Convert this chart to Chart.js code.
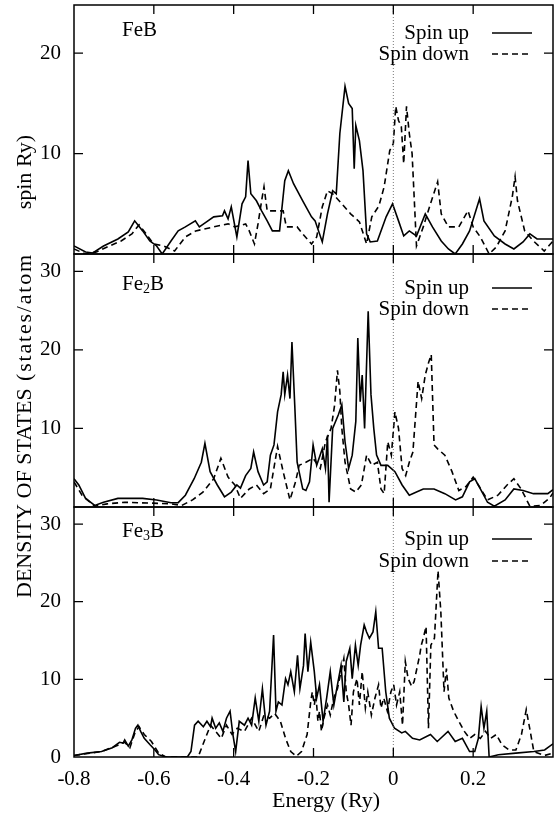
<!DOCTYPE html>
<html><head><meta charset="utf-8">
<script src="https://cdn.jsdelivr.net/npm/chart.js@4.4.0/dist/chart.umd.min.js"></script>
<style>html,body{margin:0;padding:0;background:#fff;}#wrap{position:relative;width:557px;height:818px;}</style>
</head><body><div id="wrap"><canvas id="c" width="557" height="818"></canvas></div>
<script>
// ---- data (energy in Ry, DOS in states/atom spin Ry) ----
const xLimits = [-0.8, 0.4];
const yLimits = {FeB: [0, 24.8], Fe2B: [0, 32.2], Fe3B: [0, 32.2]};
const seriesNames = ['Spin up', 'Spin down'];

const FeB_up = [[-0.800,0.8],[-0.771,0.2],[-0.753,0.1],[-0.726,0.8],[-0.690,1.5],[-0.664,2.2],[-0.648,3.3],[-0.628,2.3],[-0.610,1.3],[-0.593,0.8],[-0.579,0.0],[-0.557,1.3],[-0.539,2.3],[-0.521,2.7],[-0.496,3.3],[-0.486,2.7],[-0.468,3.2],[-0.450,3.7],[-0.428,3.8],[-0.423,4.3],[-0.414,3.5],[-0.406,4.7],[-0.392,1.7],[-0.379,5.0],[-0.370,5.7],[-0.364,9.3],[-0.357,6.0],[-0.343,5.3],[-0.330,4.3],[-0.316,3.3],[-0.303,2.3],[-0.285,2.3],[-0.272,7.3],[-0.263,8.3],[-0.250,7.0],[-0.227,5.3],[-0.205,3.7],[-0.196,3.3],[-0.178,1.2],[-0.165,4.0],[-0.152,6.3],[-0.143,6.0],[-0.134,12.0],[-0.121,16.7],[-0.112,15.0],[-0.103,14.5],[-0.098,8.5],[-0.094,12.8],[-0.085,11.3],[-0.076,8.3],[-0.067,2.0],[-0.058,1.2],[-0.040,1.3],[-0.018,3.7],[-0.002,5.0],[0.013,3.3],[0.026,1.8],[0.040,2.3],[0.058,1.8],[0.080,4.0],[0.098,2.7],[0.120,1.3],[0.138,0.5],[0.155,0.0],[0.173,1.0],[0.191,2.3],[0.216,5.5],[0.227,3.3],[0.253,1.8],[0.280,1.0],[0.302,0.5],[0.325,1.2],[0.342,2.0],[0.360,1.5],[0.400,1.5]];
const FeB_down = [[-0.800,0.5],[-0.771,0.0],[-0.744,0.2],[-0.717,0.7],[-0.682,1.3],[-0.655,2.0],[-0.637,2.9],[-0.619,2.0],[-0.601,1.0],[-0.575,0.8],[-0.548,0.3],[-0.521,1.7],[-0.495,2.3],[-0.450,2.7],[-0.414,3.0],[-0.397,2.7],[-0.370,3.0],[-0.361,2.3],[-0.348,1.0],[-0.339,3.0],[-0.330,5.3],[-0.324,6.7],[-0.316,4.3],[-0.299,4.3],[-0.276,4.3],[-0.268,2.7],[-0.241,2.7],[-0.227,2.0],[-0.205,1.0],[-0.192,1.7],[-0.178,4.7],[-0.165,6.3],[-0.152,6.0],[-0.129,5.0],[-0.107,4.0],[-0.085,3.2],[-0.067,1.0],[-0.054,3.7],[-0.036,4.8],[-0.023,6.7],[-0.009,10.3],[0.000,11.0],[0.006,14.7],[0.013,13.3],[0.020,12.7],[0.026,9.0],[0.033,14.7],[0.040,12.0],[0.047,10.0],[0.058,0.8],[0.075,2.7],[0.093,5.0],[0.111,7.2],[0.120,4.0],[0.138,2.7],[0.164,2.7],[0.187,4.3],[0.200,2.7],[0.218,1.7],[0.240,0.0],[0.258,0.7],[0.280,2.3],[0.298,5.7],[0.305,7.7],[0.311,5.3],[0.329,2.3],[0.351,1.3],[0.378,0.3],[0.400,1.3]];

const Fe2B_up = [[-0.800,3.6],[-0.788,2.8],[-0.771,1.1],[-0.748,0.2],[-0.726,0.6],[-0.690,1.1],[-0.628,1.1],[-0.593,0.9],[-0.557,0.55],[-0.539,0.55],[-0.521,1.5],[-0.499,3.6],[-0.481,5.7],[-0.472,8.1],[-0.459,4.5],[-0.441,2.8],[-0.423,1.3],[-0.406,1.9],[-0.392,2.8],[-0.383,2.4],[-0.370,4.0],[-0.357,4.9],[-0.350,7.0],[-0.339,4.5],[-0.325,2.8],[-0.316,3.2],[-0.308,6.6],[-0.299,7.9],[-0.290,12.1],[-0.281,14.3],[-0.276,17.2],[-0.272,14.3],[-0.265,16.8],[-0.259,13.8],[-0.254,21.0],[-0.247,13.0],[-0.241,5.7],[-0.227,2.3],[-0.219,2.1],[-0.210,3.2],[-0.201,7.9],[-0.192,5.3],[-0.178,7.4],[-0.170,4.9],[-0.165,9.1],[-0.161,0.6],[-0.152,10.0],[-0.138,11.7],[-0.129,13.0],[-0.121,8.3],[-0.112,4.9],[-0.103,6.6],[-0.094,10.9],[-0.089,21.5],[-0.083,13.4],[-0.078,16.8],[-0.072,10.0],[-0.063,24.9],[-0.056,14.3],[-0.049,10.0],[-0.042,6.6],[-0.031,5.3],[-0.014,5.3],[0.004,4.5],[0.022,2.8],[0.040,1.5],[0.058,1.9],[0.075,2.3],[0.102,2.3],[0.129,1.7],[0.156,0.9],[0.173,1.3],[0.191,3.2],[0.204,3.6],[0.218,2.3],[0.236,0.6],[0.253,0.1],[0.280,0.9],[0.302,2.3],[0.325,2.1],[0.351,1.7],[0.387,1.7],[0.400,2.2]];
const Fe2B_down = [[-0.800,3.2],[-0.780,1.5],[-0.748,0.1],[-0.717,0.4],[-0.673,0.6],[-0.610,0.5],[-0.557,0.4],[-0.530,0.2],[-0.503,0.9],[-0.477,1.9],[-0.450,3.6],[-0.432,6.2],[-0.414,3.8],[-0.397,2.8],[-0.383,1.1],[-0.361,2.3],[-0.343,2.8],[-0.325,1.7],[-0.308,2.3],[-0.290,7.7],[-0.276,4.5],[-0.259,0.9],[-0.245,3.2],[-0.236,5.3],[-0.219,5.7],[-0.201,6.2],[-0.183,4.9],[-0.170,8.3],[-0.156,10.0],[-0.147,13.0],[-0.140,17.4],[-0.134,14.7],[-0.129,10.0],[-0.121,5.7],[-0.107,2.3],[-0.094,1.9],[-0.080,2.8],[-0.067,6.6],[-0.054,5.3],[-0.040,5.7],[-0.031,2.3],[-0.023,1.7],[-0.014,8.3],[-0.005,6.6],[0.004,12.1],[0.013,10.0],[0.022,4.9],[0.031,4.0],[0.040,5.7],[0.049,7.0],[0.062,16.0],[0.071,13.8],[0.080,16.8],[0.089,18.5],[0.095,19.4],[0.102,7.9],[0.111,7.4],[0.129,6.6],[0.147,4.5],[0.164,2.1],[0.182,2.6],[0.200,3.8],[0.213,2.8],[0.236,0.9],[0.262,1.5],[0.285,2.8],[0.302,3.6],[0.320,2.3],[0.342,0.1],[0.369,0.2],[0.391,1.1],[0.400,1.8]];

const Fe3B_up = [[-0.800,0.2],[-0.767,0.5],[-0.731,0.7],[-0.704,1.2],[-0.686,1.9],[-0.677,1.8],[-0.673,2.2],[-0.664,1.4],[-0.655,2.2],[-0.646,3.7],[-0.640,4.1],[-0.633,3.3],[-0.624,2.4],[-0.610,1.6],[-0.597,0.9],[-0.588,0.3],[-0.570,0.0],[-0.516,0.0],[-0.507,0.7],[-0.498,4.1],[-0.489,4.6],[-0.476,3.9],[-0.467,4.6],[-0.458,3.9],[-0.454,5.0],[-0.445,3.7],[-0.436,4.4],[-0.427,3.3],[-0.418,5.0],[-0.409,5.9],[-0.402,2.9],[-0.395,0.7],[-0.386,4.6],[-0.373,4.1],[-0.364,5.0],[-0.355,4.1],[-0.346,7.6],[-0.337,4.6],[-0.328,8.8],[-0.319,4.1],[-0.310,5.9],[-0.300,15.7],[-0.294,5.9],[-0.288,7.1],[-0.279,6.7],[-0.270,10.1],[-0.264,9.3],[-0.257,11.0],[-0.248,8.4],[-0.240,13.1],[-0.234,8.8],[-0.225,11.8],[-0.221,15.9],[-0.214,11.0],[-0.207,14.8],[-0.198,11.0],[-0.192,7.6],[-0.185,9.3],[-0.176,4.6],[-0.167,7.6],[-0.158,11.0],[-0.149,6.7],[-0.140,9.3],[-0.131,11.8],[-0.124,7.1],[-0.118,12.3],[-0.109,14.0],[-0.103,10.1],[-0.095,14.4],[-0.088,11.8],[-0.082,14.4],[-0.073,17.0],[-0.067,16.1],[-0.060,15.3],[-0.051,16.1],[-0.044,18.7],[-0.037,14.0],[-0.028,14.0],[-0.019,8.4],[-0.010,5.0],[0.003,3.7],[0.021,3.1],[0.030,3.3],[0.048,2.4],[0.066,2.2],[0.093,2.9],[0.110,2.0],[0.137,3.3],[0.155,2.0],[0.173,2.4],[0.191,0.7],[0.204,0.7],[0.213,2.4],[0.220,6.5],[0.227,3.7],[0.234,5.9],[0.240,0.0],[0.263,0.3],[0.307,0.5],[0.352,0.7],[0.379,0.9],[0.400,1.7]];
const Fe3B_down = [[-0.800,0.2],[-0.731,0.7],[-0.686,1.6],[-0.673,1.9],[-0.660,1.2],[-0.646,3.3],[-0.637,3.9],[-0.624,2.9],[-0.606,2.0],[-0.588,0.5],[-0.570,0.0],[-0.489,0.0],[-0.471,2.4],[-0.458,4.1],[-0.445,3.3],[-0.431,2.4],[-0.418,4.1],[-0.404,2.9],[-0.391,3.7],[-0.373,3.3],[-0.355,5.0],[-0.337,3.3],[-0.324,5.4],[-0.310,5.0],[-0.297,5.6],[-0.283,4.6],[-0.270,2.4],[-0.257,0.7],[-0.243,0.1],[-0.230,0.7],[-0.216,2.9],[-0.207,7.1],[-0.203,8.4],[-0.198,6.7],[-0.194,8.0],[-0.189,4.6],[-0.185,5.9],[-0.180,3.3],[-0.174,5.0],[-0.165,6.7],[-0.158,5.4],[-0.149,7.6],[-0.140,8.8],[-0.131,11.0],[-0.124,12.7],[-0.118,8.4],[-0.112,6.7],[-0.106,4.1],[-0.100,8.4],[-0.091,10.1],[-0.085,6.7],[-0.078,11.0],[-0.070,6.3],[-0.064,8.4],[-0.055,5.4],[-0.046,7.6],[-0.037,9.3],[-0.031,6.3],[-0.024,7.6],[-0.015,5.9],[-0.006,8.4],[0.001,9.3],[0.008,6.7],[0.016,8.4],[0.023,4.1],[0.030,12.3],[0.037,10.1],[0.046,9.1],[0.052,9.7],[0.059,11.4],[0.066,13.1],[0.070,14.4],[0.075,15.3],[0.082,16.8],[0.088,3.7],[0.094,14.4],[0.103,15.3],[0.112,24.0],[0.119,18.7],[0.127,8.4],[0.133,11.4],[0.139,7.6],[0.151,5.9],[0.164,4.6],[0.178,3.3],[0.191,2.4],[0.204,2.9],[0.218,2.4],[0.231,3.3],[0.244,2.4],[0.258,2.9],[0.272,1.6],[0.290,0.9],[0.307,0.9],[0.321,2.9],[0.333,6.1],[0.343,3.3],[0.352,0.7],[0.379,0.2],[0.400,0.5]];

// ---- panel setup ----
const panels = [
  {axis: 'yFeB',  name: ['Fe', '', 'B'], up: FeB_up,  down: FeB_down,  lim: yLimits.FeB,  weight: 249, labelDy: 25, leg: [28, 49], showZero: false},
  {axis: 'yFe2B', name: ['Fe', '2', 'B'], up: Fe2B_up, down: Fe2B_down, lim: yLimits.Fe2B, weight: 253, labelDy: 30, leg: [34, 55], showZero: false},
  {axis: 'yFe3B', name: ['Fe', '3', 'B'], up: Fe3B_up, down: Fe3B_down, lim: yLimits.Fe3B, weight: 250, labelDy: 24, leg: [32, 54], showZero: true}
];
const FONT = '"Liberation Serif", "Times New Roman", serif';
const DASH = [6, 4];

const datasets = [];
panels.forEach(p => {
  datasets.push({label: seriesNames[0], data: p.up, yAxisID: p.axis, borderColor: '#000', borderWidth: 1.6, pointRadius: 0, fill: false, tension: 0});
  datasets.push({label: seriesNames[1], data: p.down, yAxisID: p.axis, borderColor: '#000', borderWidth: 1.6, borderDash: DASH, pointRadius: 0, fill: false, tension: 0});
});

const scales = {
  x: {
    type: 'linear', position: 'bottom', min: xLimits[0], max: xLimits[1],
    grid: {display: false, drawTicks: false}, border: {display: false},
    ticks: {stepSize: 0.2, includeBounds: false, padding: 10, color: '#000', font: {family: FONT, size: 21},
      callback: v => (Math.abs(v - xLimits[1]) < 1e-6 ? '' : String(Math.round(v * 10) / 10))},
    afterFit: s => { s.height = 61; s.paddingLeft = 0; s.paddingRight = 0; }
  }
};
panels.forEach((p, i) => {
  scales[p.axis] = {
    type: 'linear', position: 'left', stack: 'dos', stackWeight: p.weight, weight: 3 - i,
    min: p.lim[0], max: p.lim[1],
    grid: {display: false, drawTicks: false}, border: {display: false},
    ticks: {stepSize: 10, includeBounds: false, padding: 13, color: '#000', font: {family: FONT, size: 21},
      callback: v => ((v % 10 === 0 && (v > 0 || p.showZero)) ? String(v) : '')},
    afterFit: s => { s.width = 74; s.paddingTop = 0; s.paddingBottom = 0; }
  };
});

const decor = {
  id: 'decor',
  afterDatasetsDraw(chart) {
    const ctx = chart.ctx, xs = chart.scales.x;
    const L = chart.chartArea.left, R = chart.chartArea.right;
    ctx.save();
    panels.forEach(p => {
      const ys = chart.scales[p.axis];
      const T = ys.top, B = ys.bottom;
      // Fermi level dotted line
      const x0 = xs.getPixelForValue(0);
      ctx.strokeStyle = '#555'; ctx.lineWidth = 0.8; ctx.setLineDash([1, 2]);
      ctx.beginPath(); ctx.moveTo(x0, T); ctx.lineTo(x0, B); ctx.stroke();
      ctx.setLineDash([]);
      // inward ticks
      ctx.strokeStyle = '#000'; ctx.lineWidth = 1.3;
      ctx.beginPath();
      xs.ticks.forEach(t => {
        const px = xs.getPixelForValue(t.value);
        if (px <= L + 1 || px >= R - 1) return;
        ctx.moveTo(px, B); ctx.lineTo(px, B - 9);
        ctx.moveTo(px, T); ctx.lineTo(px, T + 9);
      });
      ys.ticks.forEach(t => {
        if (t.value <= ys.min || t.value >= ys.max || t.value % 10 !== 0) return;
        const py = ys.getPixelForValue(t.value);
        ctx.moveTo(L, py); ctx.lineTo(L + 9, py);
        ctx.moveTo(R, py); ctx.lineTo(R - 9, py);
      });
      ctx.stroke();
      ctx.lineWidth = 1.5;
      ctx.strokeRect(L, T, R - L, B - T);
      // panel label
      ctx.fillStyle = '#000'; ctx.textBaseline = 'middle'; ctx.textAlign = 'left';
      let lx = 122; const ly = T + p.labelDy;
      ctx.font = '21px ' + FONT; ctx.fillText(p.name[0], lx, ly); lx += ctx.measureText(p.name[0]).width;
      if (p.name[1]) { ctx.font = '14px ' + FONT; ctx.fillText(p.name[1], lx, ly + 5); lx += ctx.measureText(p.name[1]).width; }
      ctx.font = '21px ' + FONT; ctx.fillText(p.name[2], lx, ly);
      // legend
      ctx.textAlign = 'right';
      seriesNames.forEach((s, k) => {
        const yy = T + p.leg[k];
        ctx.fillText(s, 469, yy);
        ctx.lineWidth = 1.6; ctx.setLineDash(k === 0 ? [] : DASH);
        ctx.beginPath(); ctx.moveTo(492, yy); ctx.lineTo(532, yy); ctx.stroke();
        ctx.setLineDash([]);
      });
    });
    // axis titles
    ctx.font = '22px ' + FONT; ctx.textAlign = 'center'; ctx.textBaseline = 'middle';
    ctx.fillText('Energy (Ry)', 326, 801);
    ctx.save();
    ctx.translate(31, 598); ctx.rotate(-Math.PI / 2);
    ctx.font = '22px ' + FONT; ctx.textBaseline = 'alphabetic'; ctx.textAlign = 'left';
    ctx.fillText('DENSITY OF STATES', 0, 0);
    if ('letterSpacing' in ctx) ctx.letterSpacing = '1.8px';
    ctx.fillText('(states/atom', 598 - 381, 0);
    if ('letterSpacing' in ctx) ctx.letterSpacing = '0px';
    ctx.textAlign = 'center';
    ctx.fillText('spin', 598 - 191, 0);
    ctx.fillText('Ry)', 598 - 151, 0);
    ctx.restore();
    ctx.restore();
  }
};

new Chart(document.getElementById('c'), {
  type: 'line',
  data: {datasets},
  options: {
    responsive: false, animation: false, parsing: true,
    layout: {padding: {top: 5, right: 4, bottom: 0, left: 0}},
    plugins: {legend: {display: false}, tooltip: {enabled: false}},
    scales
  },
  plugins: [decor]
});
</script></body></html>
